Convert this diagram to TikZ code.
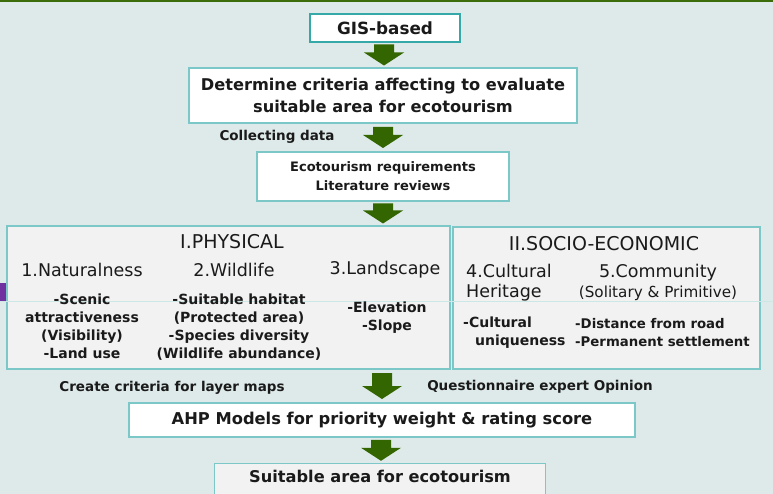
\documentclass[tikz,border=0pt]{standalone}
\usepackage{fontspec}
\setmainfont{DejaVu Sans}
\usetikzlibrary{calc}

\definecolor{bgteal}{HTML}{DDEAE9}
\definecolor{topgreen}{HTML}{3B6E0A}
\definecolor{arrowgreen}{HTML}{336600}
\definecolor{boxline}{HTML}{7CC8C8}
\definecolor{boxlinedark}{HTML}{35A8A8}
\definecolor{boxgrey}{HTML}{F2F2F2}
\definecolor{guideline}{HTML}{CDE6E6}
\definecolor{purplemark}{HTML}{7030A0}
\definecolor{ink}{HTML}{1A1A1A}

\begin{document}
\begin{tikzpicture}[x=1pt,y=-1pt,
  box/.style={draw=boxline,line width=1.2pt,fill=white,inner sep=0pt,align=center,text=ink},
  greybox/.style={box,fill=boxgrey},
  bigtxt/.style={font=\fontsize{16.2}{22}\selectfont\bfseries},
  midtxt/.style={font=\fontsize{13}{19}\selectfont\bfseries},
  lbltxt/.style={font=\fontsize{13.5}{16}\selectfont\bfseries,text=ink},
  headtxt/.style={font=\fontsize{17.5}{20}\selectfont,text=ink},
  itemtxt/.style={font=\fontsize{14}{18}\selectfont\bfseries,text=ink,align=center},
  pics/garrow/.style={code={
    \fill[arrowgreen] (-10,{-(#1+13)/2}) -- (10,{-(#1+13)/2}) -- (10,{(#1-13)/2}) -- (20,{(#1-13)/2})
      -- (0,{(#1+13)/2}) -- (-20,{(#1-13)/2}) -- (-10,{(#1-13)/2}) -- cycle;}}
]
\useasboundingbox (0,0) rectangle (773,494);
\clip (0,0) rectangle (773,494);

% background and slide trim
\fill[bgteal] (0,0) rectangle (773,494);
\fill[topgreen] (0,0) rectangle (773,2.2);
\fill[purplemark] (0,283) rectangle (5.5,302);

% boxes of the flow
\node[box,draw=boxlinedark,minimum width=150,minimum height=28,font=\fontsize{16.8}{20}\selectfont\bfseries] (gis) at (385,28) {GIS-based};
\node[box,minimum width=388,minimum height=55,bigtxt] (crit) at (383,95.5) {Determine criteria affecting to evaluate\\suitable area for ecotourism};
\node[box,minimum width=252,minimum height=49,midtxt] (eco) at (383,176.5) {Ecotourism requirements\\Literature reviews};
\node[greybox,minimum width=443,minimum height=143] (phys) at (228.5,297.5) {};
\node[greybox,minimum width=307,minimum height=142] (socio) at (606.5,298) {};
\node[box,minimum width=506,minimum height=34,font=\fontsize{16.3}{20}\selectfont\bfseries] (ahp) at (382,420) {AHP Models for priority weight \& rating score};
\node[greybox,minimum width=331,anchor=north,bigtxt,text height=16,text depth=22,inner ysep=3] (suit) at (380,463) {Suitable area for ecotourism};

% faint guide line of the slide
\draw[guideline,line width=0.8pt] (0,301) -- (773,301);

% arrows between boxes
\pic at ($(gis.south)!0.5!(crit.north)$) {garrow=8};
\pic at ($(crit.south)!0.5!(eco.north)$) {garrow=8};
\pic at ($(eco.south)!0.5!(phys.north -| eco.south)$) {garrow=7};
\pic at ($(phys.south -| ahp.north)!0.5!(ahp.north)$) {garrow=13};
\pic at ($(ahp.south)!0.5!(suit.north)$) {garrow=8};

% Text Node
\node[lbltxt] (collect) at (277,137) {Collecting data};
\node[lbltxt] (create) at (172,388) {Create criteria for layer maps};
\node[lbltxt] (quest) at (540,387) {Questionnaire expert Opinion};

% physical criteria
\node[headtxt,font=\fontsize{19}{20}\selectfont] (physhead) at (232,242) {I.PHYSICAL};
\node[headtxt] (natural) at (82,270) {1.Naturalness};
\node[headtxt] (wild) at (234,270) {2.Wildlife};
\node[headtxt] (land) at (385,270) {3.Landscape};
\node[itemtxt] (naturalitem) at (82,326) {-Scenic\\attractiveness\\(Visibility)\\-Land use};
\node[itemtxt] (wilditem) at (239,327.5) {-Suitable habitat\\(Protected area)\\-Species diversity\\(Wildlife abundance)};
\node[itemtxt] (landitem) at (387,318) {-Elevation\\-Slope};

% socio-economic criteria
\node[headtxt,font=\fontsize{19}{20}\selectfont] (sociohead) at (604,244) {II.SOCIO-ECONOMIC};
\node[headtxt,align=left,anchor=west,inner xsep=0pt] (cult) at (466,283) {4.Cultural\\Heritage};
\node[headtxt] (comm) at (658,273) {5.Community};
\node[font=\fontsize{15.2}{18}\selectfont,text=ink] (commsub) at (658,293) {(Solitary \& Primitive)};
\node[itemtxt,align=left,anchor=west,inner xsep=0pt] (cultitem) at (463,333) {-Cultural\\\hspace*{12pt}uniqueness};
\node[itemtxt,align=left,anchor=west,inner xsep=0pt,font=\fontsize{13.3}{18}\selectfont\bfseries] (commitem) at (575,333) {-Distance from road\\-Permanent settlement};
\end{tikzpicture}
\end{document}
